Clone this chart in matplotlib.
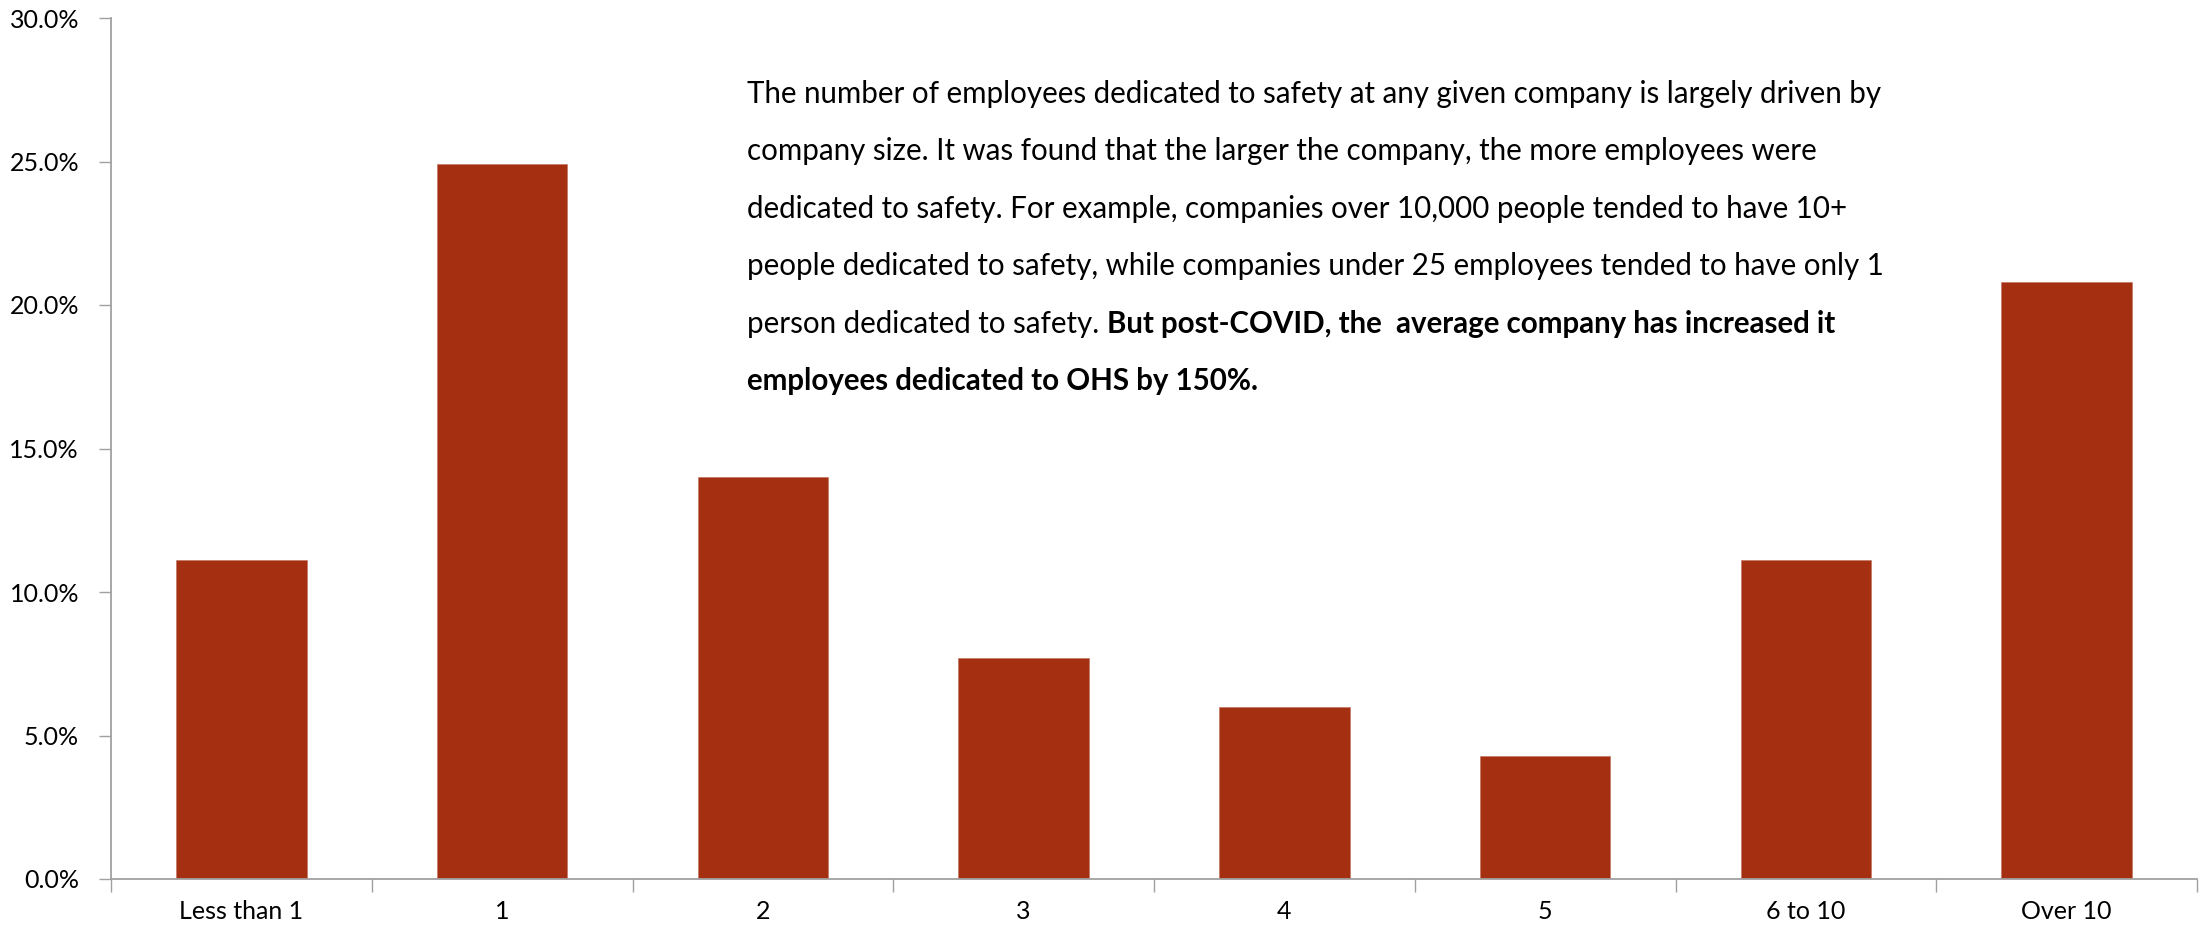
import matplotlib
matplotlib.use('Agg')
import matplotlib.pyplot as plt
from matplotlib.ticker import PercentFormatter, FixedLocator, NullFormatter

# data
categories = ['Less than 1', '1', '2', '3', '4', '5', '6 to 10', 'Over 10']
shares = [11.1, 24.9, 14.0, 7.7, 6.0, 4.3, 11.1, 20.8]

body_lines = [
    'The number of employees dedicated to safety at any given company is largely driven by',
    'company size. It was found that the larger the company, the more employees were',
    'dedicated to safety. For example, companies over 10,000 people tended to have 10+',
    'people dedicated to safety, while companies under 25 employees tended to have only 1',
]
line5_normal = 'person dedicated to safety. '
line5_bold = 'But post-COVID, the  average company has increased it'
line6_bold = 'employees dedicated to OHS by 150%.'

FONT = ['Lato', 'DejaVu Sans']
plt.rcParams['font.family'] = FONT

W, H = 2202, 926
fig = plt.figure(figsize=(W / 100, H / 100), dpi=100)
ax = fig.add_axes([111 / W, 1 - 879 / H, (2197 - 111) / W, (879 - 18) / H])

x = range(len(categories))
ax.bar(x, shares, width=0.5, color='#A52F11', edgecolor='#C0705A', linewidth=0.4)

ax.set_xlim(-0.5, len(categories) - 0.5)
ax.set_ylim(0, 30)
ax.set_yticks([0, 5, 10, 15, 20, 25, 30])
ax.yaxis.set_major_formatter(PercentFormatter(decimals=1))

ax.set_xticks(list(x))
ax.set_xticklabels(categories)
ax.xaxis.set_minor_locator(FixedLocator([i - 0.5 for i in range(len(categories) + 1)]))
ax.xaxis.set_minor_formatter(NullFormatter())
ax.tick_params(axis='x', which='major', length=0, pad=15, labelsize=18, colors='black')
ax.tick_params(axis='x', which='minor', length=9, width=1.0, color='#A0A0A0')
ax.tick_params(axis='y', which='major', length=9, width=1.0, color='#A0A0A0',
               labelsize=18, pad=14)

for s in ['top', 'right']:
    ax.spines[s].set_visible(False)
for s in ['left', 'bottom']:
    ax.spines[s].set_color('#A0A0A0')
    ax.spines[s].set_linewidth(1.3)

# annotation block
x0 = 747 / W
base = 103
step = 57.4
renderer = fig.canvas.get_renderer()

# size the body text so the first line spans the same width as in the reference
probe = fig.text(0, 0, body_lines[0], fontsize=20)
size = 20 * 1135 / probe.get_window_extent(renderer=renderer).width
probe.remove()

for i, line in enumerate(body_lines):
    fig.text(x0, 1 - (base + i * step) / H, line, fontsize=size, va='baseline', ha='left')

y5 = 1 - (base + 4 * step) / H
t5 = fig.text(x0, y5, line5_normal, fontsize=size, va='baseline', ha='left')
bb = t5.get_window_extent(renderer=renderer)
fig.text(bb.x1 / W, y5, line5_bold, fontsize=size, fontweight='bold', va='baseline', ha='left')
fig.text(x0, 1 - (base + 5 * step) / H, line6_bold, fontsize=size, fontweight='bold',
         va='baseline', ha='left')

fig.savefig('out.png', dpi=100)
